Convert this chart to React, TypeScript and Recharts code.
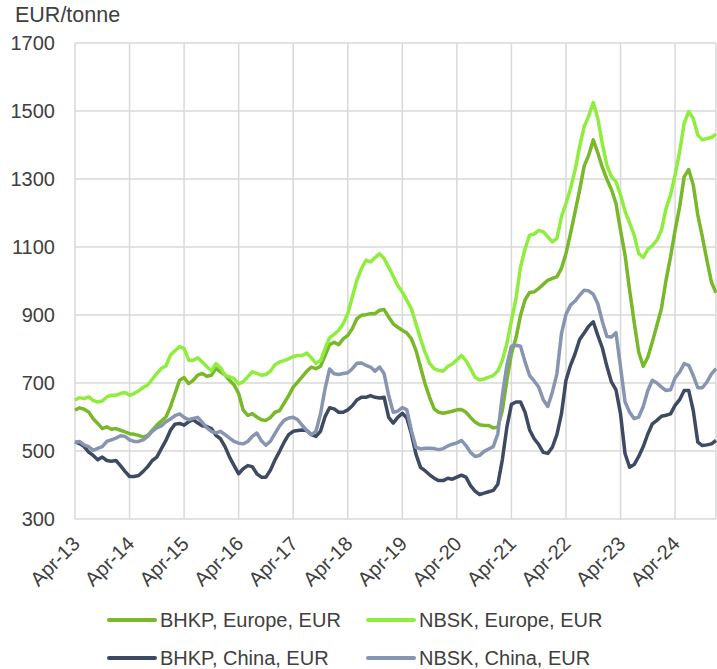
import { LineChart, Line, XAxis, YAxis, CartesianGrid } from 'recharts';

// monthly prices, Apr-13 .. Jan-25 (EUR/tonne)
const bhkpEurope = [
  620, 627, 623, 615, 595, 581, 566, 571, 564, 566,
  561, 556, 551, 549, 546, 541, 546, 561, 576, 588,
  600, 630, 669, 708, 716, 698, 708, 723, 728, 720,
  723, 743, 733, 723, 708, 694, 669, 620, 605, 610,
  600, 592, 590, 599, 614, 619, 641, 663, 688, 703,
  719, 735, 747, 742, 749, 781, 813, 820, 813, 830,
  840, 860, 889, 899, 901, 904, 904, 914, 916, 894,
  874, 864, 855, 847, 830, 796, 747, 698, 658, 624,
  614, 611, 614, 617, 621, 622, 614, 599, 585, 577,
  575, 575, 568, 570, 619, 708, 786, 833, 899, 945,
  966, 968, 978, 990, 1002, 1008, 1012, 1037, 1081, 1140,
  1203, 1267, 1338, 1370, 1415, 1377, 1334, 1299, 1269, 1228,
  1149, 1076, 973, 879, 791, 749, 776, 821, 870, 919,
  1002, 1071, 1149, 1218, 1307, 1328, 1282, 1194, 1130, 1061,
  997, 965,
];

const nbskEurope = [
  649, 657, 654, 659, 649, 644, 647, 659, 664, 664,
  669, 672, 664, 669, 677, 687, 694, 711, 728, 743,
  750, 782, 795, 807, 802, 767, 767, 774, 762, 748,
  736, 757, 745, 723, 718, 713, 697, 704, 718, 733,
  728, 723, 725, 735, 754, 762, 766, 771, 778, 781,
  781, 788, 774, 758, 766, 801, 833, 843, 855, 874,
  904, 953, 1002, 1036, 1061, 1056, 1069, 1080, 1066, 1041,
  1014, 987, 967, 943, 918, 874, 830, 791, 758, 742,
  737, 735, 749, 756, 768, 781, 766, 742, 717, 709,
  712, 717, 722, 735, 766, 816, 884, 948, 1041, 1095,
  1135, 1138, 1149, 1145, 1130, 1115, 1125, 1189, 1228, 1272,
  1326, 1395, 1454, 1485, 1525, 1478, 1403, 1341, 1307, 1292,
  1253, 1205, 1171, 1135, 1081, 1069, 1093, 1104, 1120, 1149,
  1213, 1253, 1312, 1380, 1464, 1498, 1478, 1429, 1415, 1419,
  1422, 1432,
];

const bhkpChina = [
  527, 522, 513, 497, 487, 474, 482, 472, 470, 472,
  457, 440, 425, 425, 428, 440, 454, 472, 482, 507,
  531, 561, 579, 581, 576, 586, 592, 582, 574, 572,
  566, 546, 536, 513, 482, 457, 433, 448, 457, 454,
  433, 423, 423, 444, 474, 499, 526, 548, 558, 560,
  562, 560, 548, 543, 558, 601, 627, 624, 614, 614,
  621, 633, 650, 658, 658, 663, 658, 656, 658, 599,
  582, 599, 611, 597, 550, 491, 452, 442, 430, 420,
  413, 413, 420, 417, 423, 429, 423, 398, 382, 372,
  376, 380, 384, 402, 474, 570, 637, 644, 644, 614,
  562, 536, 519, 496, 493, 511, 548, 609, 708, 752,
  786, 828, 847, 867, 880, 840, 803, 749, 703, 680,
  609, 492, 452, 460, 484, 513, 550, 580, 590, 602,
  605, 609, 634, 651, 678, 678, 619, 526, 516, 518,
  521, 531,
];

const nbskChina = [
  525, 528, 518, 513, 502, 508, 513, 528, 533, 538,
  545, 543, 533, 528, 528, 533, 543, 558, 568, 574,
  586, 594, 604, 609, 599, 592, 596, 599, 584, 568,
  558, 553, 558, 548, 538, 528, 523, 521, 528, 543,
  553, 530, 517, 529, 552, 574, 590, 597, 599, 592,
  575, 560, 548, 558, 609, 683, 741, 727, 725, 728,
  730, 742, 758, 759, 752, 747, 735, 747, 727, 663,
  614, 617, 628, 621, 560, 511, 506, 508, 508, 507,
  504, 507, 515, 520, 524, 531, 516, 496, 484, 487,
  499, 506, 513, 550, 663, 752, 808, 811, 808, 762,
  722, 706, 688, 651, 631, 673, 727, 845, 902, 929,
  941, 958, 973, 971, 961, 933, 881, 837, 835, 848,
  747, 644, 614, 595, 600, 631, 678, 708, 700, 688,
  678, 680, 715, 732, 757, 752, 722, 686, 686, 703,
  727, 742,
];

const monthNames = ['Jan', 'Feb', 'Mar', 'Apr', 'May', 'Jun', 'Jul', 'Aug', 'Sep', 'Oct', 'Nov', 'Dec'];
const months = bhkpEurope.map((_, i) => {
  const n = 3 + i; // first point is Apr-13
  return `${monthNames[n % 12]}-${13 + Math.floor(n / 12)}`;
});

const tickLabels = ['Apr-13', 'Apr-14', 'Apr-15', 'Apr-16', 'Apr-17', 'Apr-18', 'Apr-19', 'Apr-20', 'Apr-21', 'Apr-22', 'Apr-23', 'Apr-24'];
const yTicks = [300, 500, 700, 900, 1100, 1300, 1500, 1700];

const series = [
  { key: 'bhkpEur', name: 'BHKP, Europe, EUR', color: '#78B829' },
  { key: 'nbskEur', name: 'NBSK, Europe, EUR', color: '#8FEE3D' },
  { key: 'bhkpChn', name: 'BHKP, China, EUR', color: '#3E4A62' },
  { key: 'nbskChn', name: 'NBSK, China, EUR', color: '#8795B0' },
];

const data = months.map((label, i) => ({
  i,
  label,
  bhkpEur: bhkpEurope[i],
  nbskEur: nbskEurope[i],
  bhkpChn: bhkpChina[i],
  nbskChn: nbskChina[i],
}));

const xTicks = tickLabels.map((l) => months.indexOf(l));

const FONT = '"Liberation Sans", Arial, sans-serif';
const TEXT = '#404040';

function MonthTick(props: any) {
  const { x, y, payload } = props;
  const tx = x + 6;
  const ty = y + 18;
  return (
    <text x={tx} y={ty} transform={`rotate(-45, ${tx}, ${ty})`} textAnchor="end"
      fontSize={20} fontFamily={FONT} fill={TEXT}>
      {months[payload.value]}
    </text>
  );
}

export default function App() {
  return (
    <div style={{ position: 'fixed', left: 0, top: 0, width: 717, height: 669, overflow: 'hidden', background: '#fff', fontFamily: FONT }}>
      <LineChart width={717} height={669} data={data} margin={{ top: 43, right: 1, left: 0, bottom: 0 }}>
        <CartesianGrid stroke="#D9D9D9" strokeWidth={1.5} />
        <XAxis dataKey="i" type="number" domain={[0, 141]} ticks={xTicks} interval={0}
          height={150} axisLine={false} tickLine={false} tick={<MonthTick />} />
        <YAxis domain={[300, 1700]} ticks={yTicks} width={75} axisLine={false} tickLine={false}
          tickMargin={14} tick={{ fontSize: 20, fill: TEXT, fontFamily: FONT }} />
        {series.map((s) => (
          <Line key={s.key} dataKey={s.key} name={s.name} type="linear" stroke={s.color}
            strokeWidth={3.5} dot={false} isAnimationActive={false} strokeLinejoin="round" />
        ))}
      </LineChart>
      <div style={{ position: 'absolute', left: 15, top: 2, fontSize: 21.5, lineHeight: '26px', color: TEXT }}>EUR/tonne</div>
      {series.map((s, k) => {
        const left = k % 2 === 0 ? 107 : 366;
        const cy = k < 2 ? 620 : 658;
        return (
          <div key={s.key}>
            <div style={{ position: 'absolute', left, top: cy - 1.75, width: 50, height: 3.5, background: s.color, borderRadius: 2 }} />
            <div style={{ position: 'absolute', left: left + 53, top: cy - 12, fontSize: 20, lineHeight: '24px', color: TEXT, whiteSpace: 'nowrap' }}>{s.name}</div>
          </div>
        );
      })}
    </div>
  );
}
